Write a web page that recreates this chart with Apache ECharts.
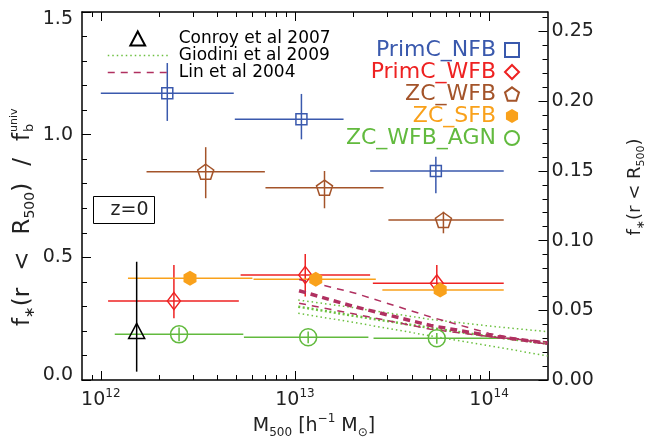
<!DOCTYPE html>
<html>
<head>
<meta charset="utf-8">
<script src="https://cdn.jsdelivr.net/npm/echarts@6.0.0/dist/echarts.min.js"></script>
<style>
html,body{margin:0;padding:0;background:#ffffff;}
#chart{width:646px;height:439px;}
</style>
</head>
<body>
<div id="chart"></div>
<script>
// ---------------- data ----------------
const seriesNames = ['PrimC_NFB', 'PrimC_WFB', 'ZC_WFB', 'ZC_SFB', 'ZC_WFB_AGN'];
const refNames = ['Conroy et al 2007', 'Giodini et al 2009', 'Lin et al 2004'];

// PrimC_NFB
const nfbMass   = [2.20e12, 1.08e13, 5.32e13];
const nfbMassLo = [1.00e12, 4.90e12, 2.44e13];
const nfbMassHi = [4.84e12, 1.78e13, 1.19e14];
const nfbFrac   = [1.169, 1.063, 0.852];
const nfbFracLo = [1.056, 0.981, 0.761];
const nfbFracHi = [1.292, 1.166, 0.910];

// PrimC_WFB
const wfbMass   = [2.38e12, 1.13e13, 5.38e13];
const wfbMassLo = [1.09e12, 5.25e12, 2.52e13];
const wfbMassHi = [5.14e12, 2.44e13, 1.19e14];
const wfbFrac   = [0.322, 0.428, 0.394];
const wfbFracLo = [0.252, 0.340, 0.353];
const wfbFracHi = [0.469, 0.514, 0.469];

// ZC_WFB
const zwMass   = [3.47e12, 1.42e13, 5.82e13];
const zwMassLo = [1.72e12, 7.05e12, 3.03e13];
const zwMassHi = [7.00e12, 2.86e13, 1.19e14];
const zwFrac   = [0.849, 0.784, 0.652];
const zwFracLo = [0.741, 0.700, 0.598];
const zwFracHi = [0.949, 0.852, 0.686];

// ZC_SFB
const zsMass   = [2.88e12, 1.28e13, 5.60e13];
const zsMassLo = [1.38e12, 6.12e12, 2.82e13];
const zsMassHi = [6.04e12, 2.61e13, 1.19e14];
const zsFrac   = [0.415, 0.411, 0.367];

// ZC_WFB_AGN
const agnMass   = [2.53e12, 1.17e13, 5.38e13];
const agnMassLo = [1.18e12, 5.46e12, 2.54e13];
const agnMassHi = [5.42e12, 2.39e13, 1.14e14];
const agnFrac   = [0.186, 0.174, 0.170];
const agnFracLo = [0.158, 0.150, 0.148];
const agnFracHi = [0.214, 0.198, 0.192];

// Conroy et al 2007
const conroyMass   = [1.53e12];
const conroyFrac   = [0.200];
const conroyFracLo = [0.034];
const conroyFracHi = [0.482];

// Lin et al 2004 relation (central, upper, lower)
const linMass = [1.05e13, 2e13, 5e13, 1e14, 2e14];
const linMid  = [0.364, 0.300, 0.222, 0.181, 0.150];
const linHi   = [0.410, 0.356, 0.257, 0.190, 0.145];
const linLo   = [0.313, 0.270, 0.207, 0.177, 0.155];

// Giodini et al 2009 relation (central, upper, lower)
const gioMass = [1.04e13, 2e13, 5e13, 1e14, 2e14];
const gioHi   = [0.326, 0.295, 0.247, 0.220, 0.197];
const gioMid  = [0.299, 0.262, 0.212, 0.178, 0.148];
const gioLo   = [0.272, 0.235, 0.180, 0.140, 0.098];

// axes / ticks
const xMin = 8e11, xMax = 2e14;
const xMajorTicks = [1e12, 1e13, 1e14];
const xMinorTicks = [9e11, 2e12, 3e12, 4e12, 5e12, 6e12, 7e12, 8e12, 9e12,
                     2e13, 3e13, 4e13, 5e13, 6e13, 7e13, 8e13, 9e13];
const yLeftMax = 1.5;
const yRightMax = 0.264;
const yRightTicks = [0, 0.05, 0.10, 0.15, 0.20, 0.25];
const yRightMinor = [0.01, 0.02, 0.03, 0.04, 0.06, 0.07, 0.08, 0.09, 0.11, 0.12, 0.13, 0.14,
                     0.16, 0.17, 0.18, 0.19, 0.21, 0.22, 0.23, 0.24, 0.26];

// ---------------- styling ----------------
const FONT = 'DejaVu Sans';
const C_NFB = '#3a59ad', C_WFB = '#ee2222', C_ZW = '#a4542a', C_ZS = '#f9a11b', C_AGN = '#62ba3e';
const C_LIN = '#b03060', C_GIO = '#6cc040';
const seriesColors = [C_NFB, C_WFB, C_ZW, C_ZS, C_AGN];

const PENTAGON = 'path://M0,-1L0.951,-0.309L0.588,0.809L-0.588,0.809L-0.951,-0.309Z';
const HEXAGON = 'path://M0,-1L0.866,-0.5L0.866,0.5L0,1L-0.866,0.5L-0.866,-0.5Z';
const TRIANGLE = 'path://M0,-1L0.95,0.8L-0.95,0.8Z';

function rows(mass, lo, hi, f, flo, fhi) {
  return mass.map((m, i) => [m, f[i], lo ? lo[i] : m, hi ? hi[i] : m,
                             flo ? flo[i] : f[i], fhi ? fhi[i] : f[i]]);
}

function errSeries(name, color, data) {
  return {
    type: 'custom', name: name + '_err', xAxisIndex: 0, yAxisIndex: 0, z: 2, silent: true,
    data: data,
    encode: { x: 0, y: 1 },
    renderItem: function (params, api) {
      const x = api.value(0), y = api.value(1);
      const xl = api.value(2), xh = api.value(3), yl = api.value(4), yh = api.value(5);
      const ch = [];
      const st = { stroke: color, lineWidth: 1.5 };
      if (xl !== xh) {
        const a = api.coord([xl, y]), b = api.coord([xh, y]);
        ch.push({ type: 'line', shape: { x1: a[0], y1: a[1], x2: b[0], y2: b[1] }, style: st });
      }
      if (yl !== yh) {
        const a = api.coord([x, yl]), b = api.coord([x, yh]);
        ch.push({ type: 'line', shape: { x1: a[0], y1: a[1], x2: b[0], y2: b[1] }, style: st });
      }
      return { type: 'group', children: ch };
    }
  };
}

function pointSeries(name, color, mass, frac, symbol, size, filled) {
  return {
    type: 'scatter', name: name, xAxisIndex: 0, yAxisIndex: 0, z: 5, silent: true,
    symbol: symbol, symbolSize: size,
    data: mass.map((m, i) => [m, frac[i]]),
    itemStyle: filled ? { color: color, borderWidth: 0, opacity: 1 }
                      : { color: 'rgba(255,255,255,0)', borderColor: color, borderWidth: 1.5, opacity: 1 },
    emphasis: { disabled: true }
  };
}

function relSeries(name, color, mass, vals, width, dash) {
  return {
    type: 'line', name: name, xAxisIndex: 0, yAxisIndex: 0, z: 3, silent: true,
    symbol: 'none', showSymbol: false, smooth: false,
    data: mass.map((m, i) => [m, vals[i]]),
    lineStyle: { color: color, width: width, type: dash },
    itemStyle: { color: color },
    emphasis: { disabled: true }
  };
}

function xAxisDef(pos, ticks, len, showLine, withLabels) {
  return {
    type: 'log', logBase: 10, min: xMin, max: xMax, position: pos, gridIndex: 0,
    axisLine: { show: showLine, onZero: false, lineStyle: { color: '#000', width: 1.5 } },
    axisTick: { show: true, inside: true, length: len, customValues: ticks,
                lineStyle: { color: '#000', width: 1 } },
    axisLabel: withLabels ? {
      show: true, customValues: xMajorTicks, margin: 8,
      formatter: v => '{b|10}{s|' + Math.round(Math.log10(v)) + '}',
      rich: {
        b: { fontFamily: FONT, fontSize: 19, color: '#222', lineHeight: 22, verticalAlign: 'bottom' },
        s: { fontFamily: FONT, fontSize: 12, color: '#222', lineHeight: 12, verticalAlign: 'top' }
      }
    } : { show: false },
    splitLine: { show: false }, minorTick: { show: false }, minorSplitLine: { show: false }
  };
}

function yRightDef(ticks, len, showLine, withLabels) {
  return {
    type: 'value', min: 0, max: yRightMax, position: 'right', gridIndex: 0,
    axisLine: { show: showLine, onZero: false, lineStyle: { color: '#000', width: 1.5 } },
    axisTick: { show: true, inside: true, length: len, customValues: ticks,
                lineStyle: { color: '#000', width: 1 } },
    axisLabel: withLabels ? {
      show: true, customValues: yRightTicks, margin: 4,
      fontFamily: FONT, fontSize: 19, color: '#222',
      formatter: v => v.toFixed(2)
    } : { show: false },
    splitLine: { show: false }, minorTick: { show: false }
  };
}

const chart = echarts.init(document.getElementById('chart'), null, { renderer: 'canvas', width: 646, height: 439 });

const hiddenSym = { color: 'rgba(0,0,0,0)', borderColor: 'rgba(0,0,0,0)', borderWidth: 0, opacity: 0 };

const option = {
  animation: false,
  backgroundColor: '#ffffff',
  grid: { left: 82, top: 12, width: 465.5, height: 368, outerBoundsMode: 'none', containLabel: false },
  xAxis: [
    xAxisDef('bottom', xMajorTicks, 9, true, true),
    xAxisDef('bottom', xMinorTicks, 5, false, false),
    xAxisDef('top', xMajorTicks, 9, true, false),
    xAxisDef('top', xMinorTicks, 5, false, false)
  ],
  yAxis: [
    {
      type: 'value', min: 0, max: yLeftMax, interval: 0.5, position: 'left', gridIndex: 0,
      axisLine: { show: true, onZero: false, lineStyle: { color: '#000', width: 1.5 } },
      axisTick: { show: true, inside: true, length: 9, lineStyle: { color: '#000', width: 1 } },
      minorTick: { show: true, splitNumber: 5, length: 5, lineStyle: { color: '#000', width: 1 } },
      axisLabel: {
        show: true, margin: 9, fontFamily: FONT, fontSize: 19, color: '#222',
        formatter: v => {
          const t = v.toFixed(1);
          if (v >= 1.5) return '{top|' + t + '}';
          if (v <= 0) return '{bot|' + t + '}';
          return t;
        },
        rich: {
          top: { fontFamily: FONT, fontSize: 19, color: '#222', padding: [14, 0, 0, 0] },
          bot: { fontFamily: FONT, fontSize: 19, color: '#222', padding: [0, 0, 10, 0] }
        }
      },
      splitLine: { show: false }
    },
    yRightDef(yRightTicks, 9, true, true),
    yRightDef(yRightMinor, 5, false, false)
  ],
  legend: [
    {
      orient: 'vertical', align: 'right', right: 126, top: 39, padding: 0,
      itemWidth: 14, itemHeight: 14, itemGap: 0, selectedMode: false,
      data: seriesNames.map((n, i) => ({ name: n, textStyle: { color: seriesColors[i] } })),
      textStyle: { fontFamily: FONT, fontSize: 22, lineHeight: 22, padding: [0, 4, 0, 0] }
    },
    {
      orient: 'vertical', align: 'left', left: 107, top: 30, padding: 0,
      itemWidth: 60, itemHeight: 14, itemGap: 0, selectedMode: false, symbolKeepAspect: true,
      data: [
        { name: refNames[0], icon: TRIANGLE },
        { name: refNames[1], itemStyle: hiddenSym },
        { name: refNames[2], itemStyle: hiddenSym }
      ],
      lineStyle: { width: 1.5 },
      textStyle: { fontFamily: FONT, fontSize: 17, lineHeight: 16, color: '#000', padding: [0, 0, 0, 6] }
    }
  ],
  series: [
    // relations (first series of each name gives the legend icon)
    relSeries(refNames[1], C_GIO, gioMass, gioHi, 1.5, [1.5, 3]),
    relSeries(refNames[1], C_GIO, gioMass, gioMid, 2.5, [2, 2.5]),
    relSeries(refNames[1], C_GIO, gioMass, gioLo, 1.5, [1.5, 3]),
    relSeries(refNames[2], C_LIN, linMass, linHi, 1.5, [7, 6]),
    relSeries(refNames[2], C_LIN, linMass, linMid, 3.5, [7, 5]),
    relSeries(refNames[2], C_LIN, linMass, linLo, 1.5, [7, 6]),
    // error bars
    errSeries('PrimC_NFB', C_NFB, rows(nfbMass, nfbMassLo, nfbMassHi, nfbFrac, nfbFracLo, nfbFracHi)),
    errSeries('PrimC_WFB', C_WFB, rows(wfbMass, wfbMassLo, wfbMassHi, wfbFrac, wfbFracLo, wfbFracHi)),
    errSeries('ZC_WFB', C_ZW, rows(zwMass, zwMassLo, zwMassHi, zwFrac, zwFracLo, zwFracHi)),
    errSeries('ZC_SFB', C_ZS, rows(zsMass, zsMassLo, zsMassHi, zsFrac, null, null)),
    errSeries('ZC_WFB_AGN', C_AGN, rows(agnMass, agnMassLo, agnMassHi, agnFrac, agnFracLo, agnFracHi)),
    errSeries('Conroy', '#000', rows(conroyMass, null, null, conroyFrac, conroyFracLo, conroyFracHi)),
    // markers
    pointSeries('PrimC_NFB', C_NFB, nfbMass, nfbFrac, 'rect', 11, false),
    pointSeries('PrimC_WFB', C_WFB, wfbMass, wfbFrac, 'diamond', [13, 17], false),
    pointSeries('ZC_WFB', C_ZW, zwMass, zwFrac, PENTAGON, [16, 15], false),
    pointSeries('ZC_SFB', C_ZS, zsMass, zsFrac, HEXAGON, [13, 15], true),
    pointSeries('ZC_WFB_AGN', C_AGN, agnMass, agnFrac, 'circle', 17, false),
    pointSeries(refNames[0], '#000', conroyMass, conroyFrac, TRIANGLE, [16, 15], false)
  ],
  graphic: [
    { type: 'rect', shape: { x: 93.5, y: 196.5, width: 61, height: 27 },
      style: { fill: 'none', stroke: '#000', lineWidth: 1 }, silent: true },
    { type: 'text', x: 129.5, y: 210,
      style: { text: 'z=0', fontFamily: FONT, fontSize: 19, fill: '#222', align: 'center', verticalAlign: 'middle' } },
    // x axis title
    { type: 'text', x: 314, y: 426,
      style: {
        text: '{m|M}{s|500}{m| [h}{p|−1}{m| M}{s|⊙}{m|]}',
        align: 'center', verticalAlign: 'middle',
        rich: {
          m: { fontFamily: FONT, fontSize: 19, fill: '#222', lineHeight: 26, verticalAlign: 'middle' },
          s: { fontFamily: FONT, fontSize: 12, fill: '#222', lineHeight: 12, verticalAlign: 'bottom' },
          p: { fontFamily: FONT, fontSize: 12, fill: '#222', lineHeight: 12, verticalAlign: 'top' }
        }
      } },
    // left y title
    { type: 'group', x: 23, y: 0, rotation: Math.PI / 2, children: [
      { type: 'text', x: -133, y: 0,
        style: {
          text: '{m|f}{s|∗}{m|(r}{g| }{m|<}{g| }{m|R}{s|500}{m|)}{g| }{m|/}{g| }{m|f}',
          align: 'right', verticalAlign: 'middle',
          rich: {
            m: { fontFamily: FONT, fontSize: 23, fill: '#222', lineHeight: 28, verticalAlign: 'middle' },
            s: { fontFamily: FONT, fontSize: 14, fill: '#222', lineHeight: 14, verticalAlign: 'bottom' },
            g: { fontFamily: FONT, fontSize: 10, width: 17 }
          }
        } },
      { type: 'text', x: -132, y: -9,
        style: { text: 'univ', fontFamily: FONT, fontSize: 11, fill: '#222', align: 'left', verticalAlign: 'middle' } },
      { type: 'text', x: -132, y: 7,
        style: { text: 'b', fontFamily: FONT, fontSize: 13, fill: '#222', align: 'left', verticalAlign: 'middle' } }
    ] },
    // right y title
    { type: 'group', x: 635, y: 187, rotation: Math.PI / 2, children: [
      { type: 'text', x: 0, y: 0,
        style: {
          text: '{m|f}{s|∗}{m|(r < R}{s|500}{m|)}',
          align: 'center', verticalAlign: 'middle',
          rich: {
            m: { fontFamily: FONT, fontSize: 18, fill: '#222', lineHeight: 24, verticalAlign: 'middle' },
            s: { fontFamily: FONT, fontSize: 11, fill: '#222', lineHeight: 11, verticalAlign: 'bottom' }
          }
        } }
    ] }
  ]
};
chart.setOption(option);
</script>
</body>
</html>
